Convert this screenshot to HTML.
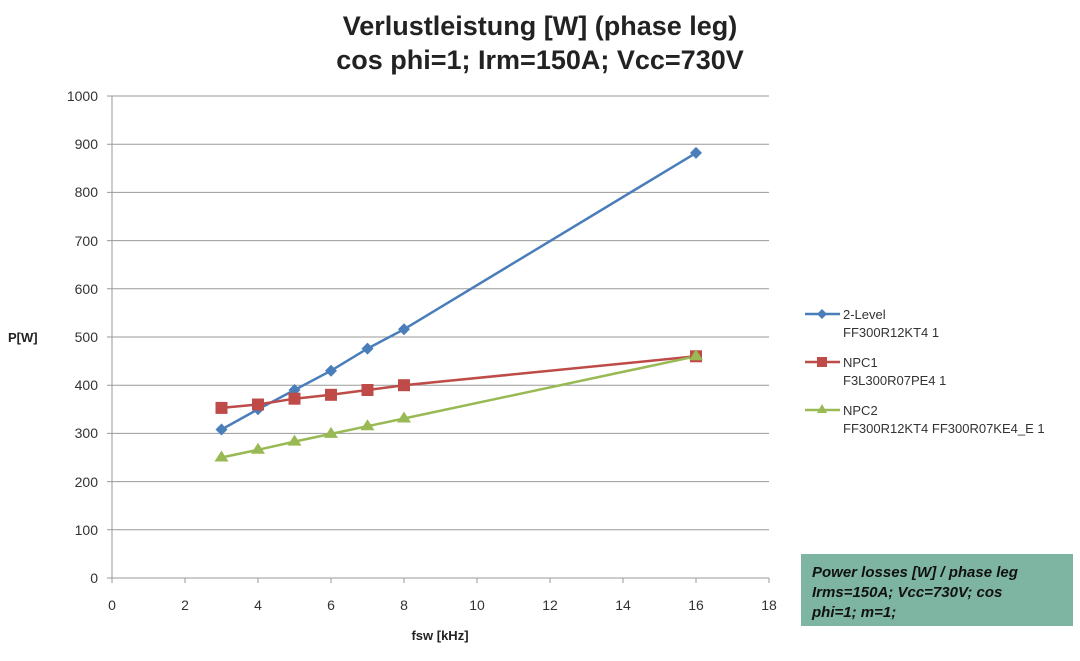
<!DOCTYPE html>
<html><head><meta charset="utf-8"><style>
body{margin:0;background:#fff;width:1080px;height:656px;overflow:hidden}
svg{font-family:"Liberation Sans",sans-serif}
</style></head><body>
<svg width="1080" height="656" viewBox="0 0 1080 656">
<text x="540" y="35" text-anchor="middle" font-size="27" font-weight="bold" fill="#222">Verlustleistung [W] (phase leg)</text>
<text x="540" y="69" text-anchor="middle" font-size="27" font-weight="bold" fill="#222">cos phi=1; Irm=150A; Vcc=730V</text>
<g stroke="#9a9a9a" stroke-width="1">
<line x1="107" y1="96" x2="769" y2="96"/><line x1="107" y1="144.2" x2="769" y2="144.2"/>
<line x1="107" y1="192.4" x2="769" y2="192.4"/><line x1="107" y1="240.6" x2="769" y2="240.6"/>
<line x1="107" y1="288.8" x2="769" y2="288.8"/><line x1="107" y1="337" x2="769" y2="337"/>
<line x1="107" y1="385.2" x2="769" y2="385.2"/><line x1="107" y1="433.4" x2="769" y2="433.4"/>
<line x1="107" y1="481.6" x2="769" y2="481.6"/><line x1="107" y1="529.8" x2="769" y2="529.8"/>
<line x1="107" y1="578" x2="769" y2="578"/>
<line x1="112" y1="96" x2="112" y2="583"/>
<line x1="185" y1="578" x2="185" y2="583"/><line x1="258" y1="578" x2="258" y2="583"/>
<line x1="331" y1="578" x2="331" y2="583"/><line x1="404" y1="578" x2="404" y2="583"/>
<line x1="477" y1="578" x2="477" y2="583"/><line x1="550" y1="578" x2="550" y2="583"/>
<line x1="623" y1="578" x2="623" y2="583"/><line x1="696" y1="578" x2="696" y2="583"/>
<line x1="769" y1="578" x2="769" y2="583"/>
</g>
<g font-size="14" fill="#333" text-anchor="end">
<text x="98" y="101">1000</text><text x="98" y="149">900</text><text x="98" y="197">800</text>
<text x="98" y="246">700</text><text x="98" y="294">600</text><text x="98" y="342">500</text>
<text x="98" y="390">400</text><text x="98" y="438">300</text><text x="98" y="487">200</text>
<text x="98" y="535">100</text><text x="98" y="583">0</text>
</g>
<g font-size="14" fill="#333" text-anchor="middle">
<text x="112" y="610">0</text><text x="185" y="610">2</text><text x="258" y="610">4</text>
<text x="331" y="610">6</text><text x="404" y="610">8</text><text x="477" y="610">10</text>
<text x="550" y="610">12</text><text x="623" y="610">14</text><text x="696" y="610">16</text>
<text x="769" y="610">18</text>
</g>
<text x="440" y="640" text-anchor="middle" font-size="13" font-weight="bold" fill="#222">fsw [kHz]</text>
<text x="8" y="342" font-size="13" font-weight="bold" fill="#222">P[W]</text>
<polyline fill="none" stroke="#4a7ebb" stroke-width="2.5" points="221.5,429.5 258,409.3 294.5,390 331,370.7 367.5,348.6 404,329.3 696,152.9"/>
<polyline fill="none" stroke="#be4b48" stroke-width="2.5" points="221.5,407.9 258,404.5 294.5,398.7 331,394.8 367.5,390 404,385.2 696,356.3"/>
<polyline fill="none" stroke="#98b954" stroke-width="2.5" points="221.5,457.5 258,449.8 294.5,441.6 331,433.9 367.5,426.2 404,418.5 696,356.3"/>
<g fill="#4a7ebb">
<path d="M221.5,423.5l6,6l-6,6l-6,-6z"/><path d="M258,403.3l6,6l-6,6l-6,-6z"/><path d="M294.5,384l6,6l-6,6l-6,-6z"/>
<path d="M331,364.7l6,6l-6,6l-6,-6z"/><path d="M367.5,342.6l6,6l-6,6l-6,-6z"/><path d="M404,323.3l6,6l-6,6l-6,-6z"/>
<path d="M696,146.9l6,6l-6,6l-6,-6z"/></g>
<g fill="#be4b48">
<rect x="215.5" y="401.9" width="12" height="12"/><rect x="252" y="398.5" width="12" height="12"/><rect x="288.5" y="392.7" width="12" height="12"/>
<rect x="325" y="388.8" width="12" height="12"/><rect x="361.5" y="384" width="12" height="12"/><rect x="398" y="379.2" width="12" height="12"/>
<rect x="690" y="350.3" width="12" height="12"/></g>
<g fill="#98b954">
<path d="M221.5,450.5l7,11h-14z"/><path d="M258,442.8l7,11h-14z"/><path d="M294.5,434.6l7,11h-14z"/>
<path d="M331,426.9l7,11h-14z"/><path d="M367.5,419.2l7,11h-14z"/><path d="M404,411.5l7,11h-14z"/>
<path d="M696,349.3l7,11h-14z"/></g>
<g font-size="13" fill="#333">
<line x1="805" y1="314" x2="840" y2="314" stroke="#4a7ebb" stroke-width="2.5"/><path d="M822,309l5,5l-5,5l-5,-5z" fill="#4a7ebb"/>
<text x="843" y="319">2-Level</text><text x="843" y="337">FF300R12KT4 1</text>
<line x1="805" y1="362" x2="840" y2="362" stroke="#be4b48" stroke-width="2.5"/><rect x="817" y="357" width="10" height="10" fill="#be4b48"/>
<text x="843" y="367">NPC1</text><text x="843" y="385">F3L300R07PE4 1</text>
<line x1="805" y1="410" x2="840" y2="410" stroke="#98b954" stroke-width="2.5"/><path d="M822,404l5,9h-10z" fill="#98b954"/>
<text x="843" y="415">NPC2</text><text x="843" y="433">FF300R12KT4 FF300R07KE4_E 1</text>
</g>
<rect x="801" y="554" width="272" height="72" fill="#7db5a2"/>
<g font-size="15" font-weight="bold" font-style="italic" fill="#111">
<text x="812" y="577">Power losses [W] / phase leg</text>
<text x="812" y="597">Irms=150A; Vcc=730V; cos</text>
<text x="812" y="617">phi=1; m=1;</text>
</g>
</svg>
</body></html>
